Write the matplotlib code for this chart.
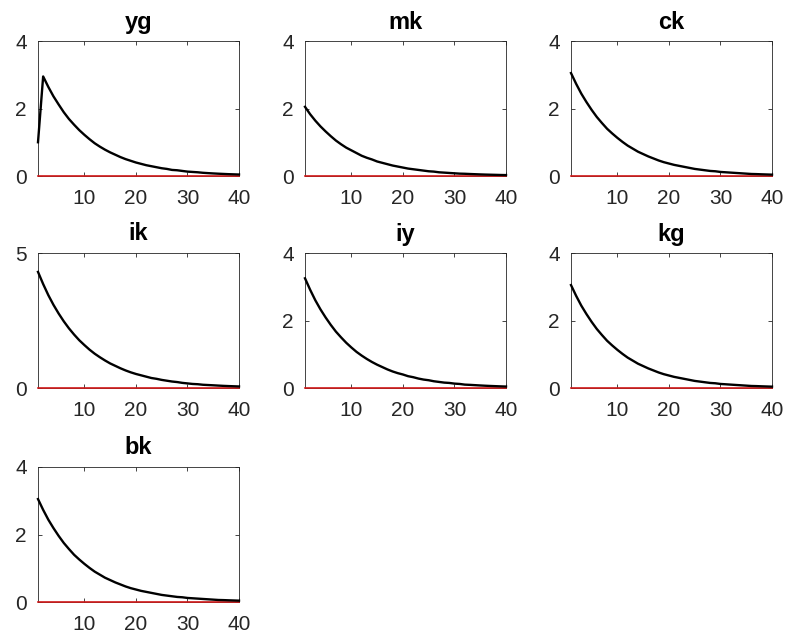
#
# Impulse responses, 7 panels in a 3x3 grid (MATLAB/Dynare look)
#
import matplotlib
matplotlib.use("Agg")
import matplotlib.pyplot as plt
#
# --------------------------------------------------------------------- #
# Data
periods = list(range(1, 41))
#
yg = [1.00, 2.95, 2.64, 2.36, 2.12, 1.89, 1.69, 1.52, 1.36, 1.22,
      1.09, 0.97, 0.87, 0.78, 0.70, 0.63, 0.56, 0.50, 0.45, 0.40,
      0.36, 0.32, 0.29, 0.26, 0.23, 0.21, 0.18, 0.17, 0.15, 0.13,
      0.12, 0.11, 0.095, 0.085, 0.076, 0.068, 0.061, 0.054, 0.049, 0.044]
mk = [2.05, 1.83, 1.64, 1.47, 1.32, 1.18, 1.05, 0.94, 0.84, 0.76,
      0.68, 0.60, 0.54, 0.49, 0.43, 0.39, 0.35, 0.31, 0.28, 0.25,
      0.22, 0.20, 0.18, 0.16, 0.14, 0.13, 0.11, 0.10, 0.09, 0.08,
      0.07, 0.066, 0.059, 0.053, 0.047, 0.042, 0.038, 0.034, 0.030, 0.027]
ck = [3.05, 2.73, 2.44, 2.19, 1.96, 1.75, 1.57, 1.40, 1.26, 1.13,
      1.01, 0.90, 0.81, 0.72, 0.65, 0.58, 0.52, 0.46, 0.41, 0.37,
      0.33, 0.30, 0.27, 0.24, 0.21, 0.19, 0.17, 0.15, 0.14, 0.12,
      0.11, 0.10, 0.09, 0.08, 0.07, 0.06, 0.056, 0.050, 0.045, 0.040]
ik = [4.30, 3.85, 3.44, 3.08, 2.76, 2.47, 2.21, 1.98, 1.77, 1.59,
      1.42, 1.27, 1.14, 1.02, 0.91, 0.82, 0.73, 0.65, 0.58, 0.52,
      0.47, 0.42, 0.37, 0.34, 0.30, 0.27, 0.24, 0.22, 0.19, 0.17,
      0.15, 0.14, 0.12, 0.11, 0.10, 0.089, 0.079, 0.071, 0.064, 0.057]
iy = [3.25, 2.91, 2.60, 2.33, 2.09, 1.87, 1.67, 1.50, 1.34, 1.20,
      1.07, 0.96, 0.86, 0.77, 0.69, 0.62, 0.55, 0.49, 0.44, 0.40,
      0.35, 0.32, 0.28, 0.25, 0.23, 0.20, 0.18, 0.16, 0.15, 0.13,
      0.12, 0.10, 0.093, 0.084, 0.075, 0.067, 0.060, 0.054, 0.048, 0.043]
kg = [3.05, 2.73, 2.44, 2.19, 1.96, 1.75, 1.57, 1.40, 1.26, 1.13,
      1.01, 0.90, 0.81, 0.72, 0.65, 0.58, 0.52, 0.46, 0.41, 0.37,
      0.33, 0.30, 0.27, 0.24, 0.21, 0.19, 0.17, 0.15, 0.14, 0.12,
      0.11, 0.10, 0.09, 0.08, 0.07, 0.06, 0.056, 0.050, 0.045, 0.040]
bk = [3.05, 2.73, 2.44, 2.19, 1.96, 1.75, 1.57, 1.40, 1.26, 1.13,
      1.01, 0.90, 0.81, 0.72, 0.65, 0.58, 0.52, 0.46, 0.41, 0.37,
      0.33, 0.30, 0.27, 0.24, 0.21, 0.19, 0.17, 0.15, 0.14, 0.12,
      0.11, 0.10, 0.09, 0.08, 0.07, 0.06, 0.056, 0.050, 0.045, 0.040]
#
names = ["yg", "mk", "ck", "ik", "iy", "kg", "bk"]
series = [yg, mk, ck, ik, iy, kg, bk]
yTops = [4, 4, 4, 5, 4, 4, 4]
yTicks = [[0, 2, 4], [0, 2, 4], [0, 2, 4], [0, 5], [0, 2, 4], [0, 2, 4], [0, 2, 4]]
xTicks = [10, 20, 30, 40]
#
# --------------------------------------------------------------------- #
# Figure
plt.rcParams["font.family"] = ["Liberation Sans", "DejaVu Sans"]
fig = plt.figure(figsize=(7.98, 6.44), dpi=100)
#
W, H = 798.0, 644.0
lefts = [38, 305, 571]
tops = [41, 253, 467]
axW, axH = 201, 135
axisCol = "#262626"
#
for i, name in enumerate(names):
    r, c = divmod(i, 3)
    ax = fig.add_axes([lefts[c] / W, 1 - (tops[r] + axH) / H, axW / W, axH / H])
    # zero (steady state) line in red, drawn over the bottom spine
    ax.plot(periods, [0] * len(periods), color="#d01818", lw=1.2,
            clip_on=False, zorder=4)
    ax.plot(periods, series[i], color="black", lw=1.7, clip_on=False, zorder=5)
    ax.set_xlim(1, 40)
    ax.set_ylim(0, yTops[i])
    ax.set_xticks(xTicks)
    ax.set_yticks(yTicks[i])
    ax.set_title(name, fontsize=17, fontweight="bold", pad=9)
    ax.tick_params(direction="in", top=True, right=True, length=3,
                   labelsize=15, colors=axisCol, width=0.6)
    ax.tick_params(axis="x", pad=9)
    ax.tick_params(axis="y", pad=8)
    for s in ax.spines.values():
        s.set_color(axisCol)
        s.set_linewidth(0.6)
#
fig.savefig("out.png", dpi=100)
